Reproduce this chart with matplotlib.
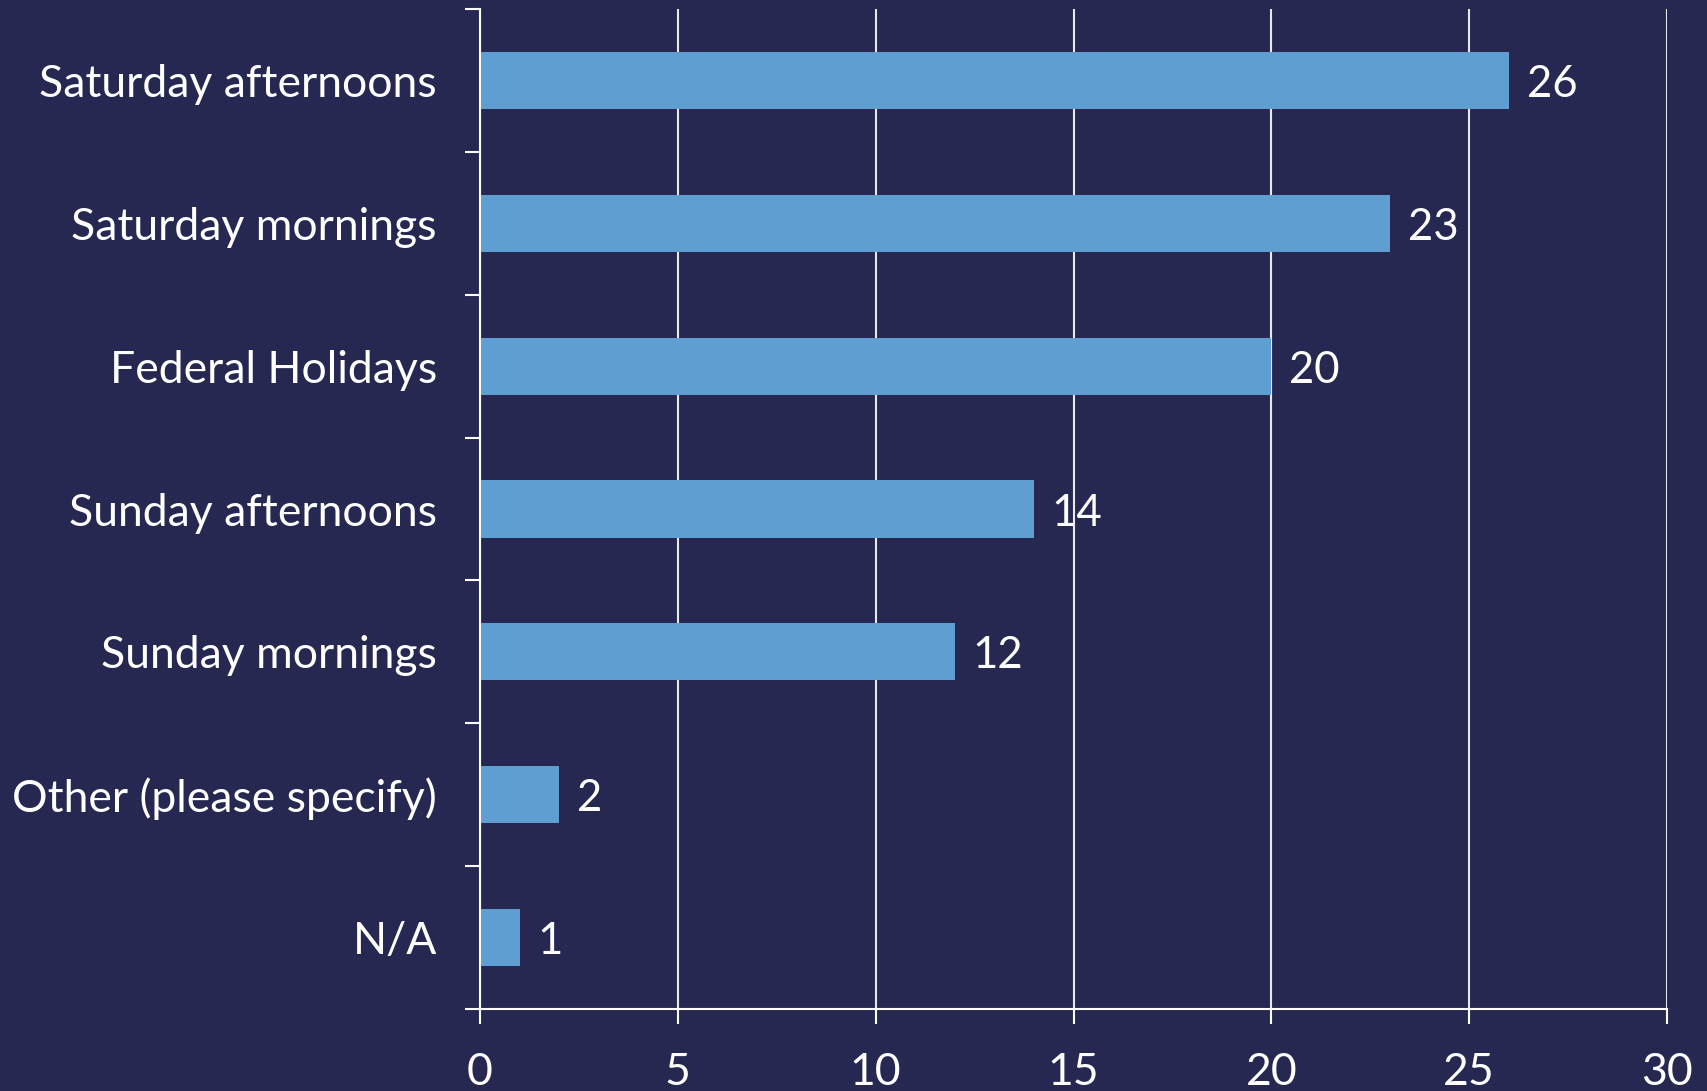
import matplotlib
matplotlib.use("Agg")
import matplotlib.pyplot as plt
import numpy as np

categories = ["Saturday afternoons", "Saturday mornings", "Federal Holidays",
              "Sunday afternoons", "Sunday mornings", "Other (please specify)", "N/A"]
values = [26, 23, 20, 14, 12, 2, 1]
xticks = [0, 5, 10, 15, 20, 25, 30]

BG = "#262852"
BAR = "#5F9ED1"
FG = "white"
plt.rcParams['font.family'] = ['Lato', 'DejaVu Sans']

fig = plt.figure(figsize=(17.07, 10.91), dpi=100, facecolor=BG)
ax = fig.add_axes([480/1707, 1-1009/1091, (1667-480)/1707, (1009-9)/1091])
ax.set_facecolor(BG)

y = np.arange(len(categories))
ax.barh(y, values, height=0.4, color=BAR, zorder=2)
for yi, v in zip(y, values):
    ax.text(v + 0.45, yi, str(v), va='center_baseline', ha='left', color=FG,
            fontsize=31.5, zorder=3)

ax.set_xlim(0, 30)
ax.set_ylim(len(categories) - 0.5, -0.5)
ax.set_xticks(xticks)
ax.set_xticklabels([str(t) for t in xticks])
ax.set_yticks(y)
ax.set_yticklabels(categories)
ax.set_yticks(np.arange(-0.5, len(categories), 1), minor=True)
ax.tick_params(axis='y', which='major', length=0, pad=31, labelsize=32, labelcolor=FG)
ax.tick_params(axis='y', which='minor', length=10.8, width=1.5, color=FG, direction='out')
ax.tick_params(axis='x', which='major', length=10.8, width=1.5, color=FG, pad=20,
               labelsize=32, labelcolor=FG)
ax.grid(axis='x', color='#E8E8E8', linewidth=1.5, zorder=1)
for s in ['top', 'right']:
    ax.spines[s].set_visible(False)
for s in ['left', 'bottom']:
    ax.spines[s].set_color(FG)
    ax.spines[s].set_linewidth(1.5)

fig.savefig("out.png", dpi=100, facecolor=BG)
